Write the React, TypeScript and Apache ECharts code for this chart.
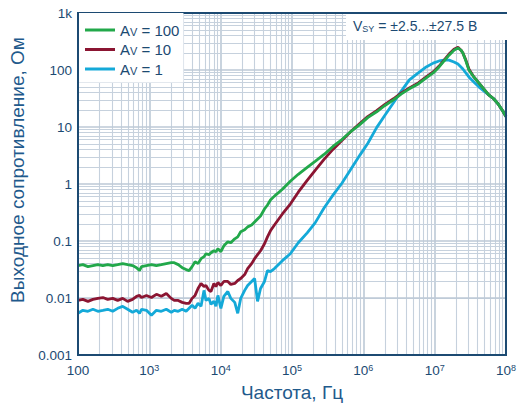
import React, { useEffect, useRef } from "react";
import * as echarts from "echarts";

// Frequency, Hz
const freqs = [
  100, 117, 138, 162, 190, 223, 261, 307, 360, 423,
  496, 582, 662, 728, 777, 911, 1070, 1256, 1473, 1729,
  2028, 2234, 2541, 2887, 3281, 3612, 3975, 4375, 4816, 5304,
  5839, 6223, 6852, 7307, 8043, 8576, 9145, 10070, 11080, 12600,
  13870, 15760, 17350, 19100, 21710, 23890, 27160, 29900, 32900, 36230,
  41180, 45330, 49900, 56730, 73300, 94700, 122400, 163300, 211000, 281300,
  375100, 500600, 667800, 891000, 1152000, 1537000, 1985000, 2648000, 3422000, 4420000,
  5895000, 7620000, 9530000, 11550000, 13550000, 15910000, 18660000, 21220000, 23360000, 24900000,
  27400000, 30190000, 35430000, 41570000, 48780000, 57260000, 67200000, 78900000, 89700000, 100000000,
];

// Output impedance, Ohm, A_V = 100
const zAv100 = [
  0.0370, 0.0385, 0.0355, 0.0370, 0.0385, 0.0370, 0.0385, 0.0370, 0.0385, 0.0401,
  0.0385, 0.0370, 0.0341, 0.0303, 0.0355, 0.0370, 0.0385, 0.0370, 0.0385, 0.0401,
  0.0417, 0.0417, 0.0385, 0.0341, 0.0315, 0.0303, 0.0355, 0.0434, 0.0401, 0.0490,
  0.0531, 0.0598, 0.0575, 0.0623, 0.0675, 0.0649, 0.0731, 0.0649, 0.0824, 0.0968,
  0.0930, 0.109, 0.118, 0.145, 0.157, 0.177, 0.191, 0.216, 0.244, 0.275,
  0.364, 0.428, 0.522, 0.613, 0.811, 1.12, 1.48, 1.96, 2.50, 3.30,
  4.56, 6.03, 8.32, 11.0, 14.6, 18.5, 23.6, 30.0, 38.2, 46.7,
  57.0, 72.6, 88.7, 113, 144, 182, 223, 242, 223, 198,
  144, 100, 75.5, 59.4, 46.7, 36.7, 31.3, 24.6, 19.3, 15.2,
];

// Output impedance, Ohm, A_V = 10
const zAv10 = [
  0.00908, 0.00945, 0.00873, 0.00945, 0.00985, 0.0102, 0.00945, 0.00985, 0.00908, 0.00985,
  0.00873, 0.00945, 0.0107, 0.0111, 0.0102, 0.0111, 0.0102, 0.0116, 0.0107, 0.0120,
  0.00985, 0.00908, 0.00908, 0.00838, 0.00806, 0.00806, 0.00985, 0.0111, 0.0147, 0.0180,
  0.0159, 0.0166, 0.0136, 0.0130, 0.0180, 0.0159, 0.0187, 0.0166, 0.0195, 0.0195,
  0.0173, 0.0180, 0.0203, 0.0220, 0.0258, 0.0328, 0.0401, 0.0490, 0.0575, 0.0675,
  0.0893, 0.118, 0.151, 0.191, 0.298, 0.445, 0.719, 1.16, 1.74, 2.70,
  4.04, 5.79, 8.32, 11.5, 15.2, 19.3, 24.6, 31.3, 39.7, 48.6,
  59.4, 75.5, 92.3, 117, 149, 190, 232, 252, 223, 198,
  149, 104, 75.5, 59.4, 46.7, 36.7, 31.3, 24.6, 19.3, 15.2,
];

// Output impedance, Ohm, A_V = 1
const zAv1 = [
  0.00539, 0.00608, 0.00584, 0.00633, 0.00584, 0.00608, 0.00633, 0.00584, 0.00659, 0.00714,
  0.00633, 0.00561, 0.00608, 0.00539, 0.00633, 0.00608, 0.00498, 0.00608, 0.00584, 0.00633,
  0.00561, 0.00608, 0.00584, 0.00633, 0.00584, 0.00659, 0.00743, 0.00659, 0.00806, 0.00714,
  0.0136, 0.00908, 0.00985, 0.00774, 0.00873, 0.00714, 0.0111, 0.00659, 0.0107, 0.0130,
  0.00985, 0.00838, 0.00539, 0.00985, 0.0136, 0.0166, 0.0195, 0.0220, 0.00873, 0.0147,
  0.0195, 0.0303, 0.0291, 0.0328, 0.0452, 0.0598, 0.0930, 0.139, 0.208, 0.379,
  0.638, 1.03, 1.81, 3.18, 5.14, 9.76, 15.8, 26.6, 43.1, 67.0,
  88.7, 113, 132, 144, 149, 149, 138, 127, 113, 104,
  88.7, 75.5, 61.8, 50.6, 43.1, 36.7, 31.3, 24.6, 19.3, 15.2,
];

const gains = [100, 10, 1];
const seriesColors = ["#22a84a", "#8b1532", "#14a9d8"];
const xTickExponents = [2, 3, 4, 5, 6, 7, 8];
const yTickLabels = ["0.001", "0.01", "0.1", "1", "10", "100", "1k"];
const xAxisTitle = "Частота, Гц";
const yAxisTitle = "Выходное сопротивление, Ом";
const noteText = "V{sub|SY} = ±2.5...±27.5 В";

const FONT = "'Liberation Sans', Arial, Helvetica, sans-serif";
const NAVY = "#1c4a72";
const TITLE = "#1f5a8c";
const GRID_MINOR = "#c6d1dd";
const GRID_MAJOR = "#bcc9d6";

function gridLines() {
  const items: any[] = [];
  for (let k = xTickExponents[0]; k < xTickExponents[xTickExponents.length - 1]; k++) {
    for (let m = 1; m <= 9; m++) {
      if (m === 1 && k === xTickExponents[0]) continue;
      items.push({
        xAxis: m * Math.pow(10, k),
        lineStyle: { type: "solid", color: m === 1 ? GRID_MAJOR : GRID_MINOR, width: m === 1 ? 1.6 : 1.1 },
      });
    }
  }
  for (let k = -3; k < 3; k++) {
    for (let m = 1; m <= 9; m++) {
      if (m === 1 && k === -3) continue;
      items.push({
        yAxis: m * Math.pow(10, k),
        lineStyle: { type: "solid", color: m === 1 ? GRID_MAJOR : GRID_MINOR, width: m === 1 ? 1.6 : 1.1 },
      });
    }
  }
  return items;
}

export default function App() {
  const ref = useRef<HTMLDivElement>(null);
  useEffect(() => {
    if (!ref.current) return;
    const chart = echarts.init(ref.current, null, { renderer: "svg" });
    const values = [zAv100, zAv10, zAv1];
    const names = gains.map((g) => `AV = ${g}`);
    const dataSeries = [2, 1, 0].map((i) => ({
      name: names[i],
      type: "line",
      z: 3,
      showSymbol: false,
      symbol: "none",
      smooth: false,
      clip: true,
      color: seriesColors[i],
      lineStyle: { color: seriesColors[i], width: 2.8 },
      data: freqs.map((f, j) => [f, values[i][j]]),
    }));
    const option: any = {
      animation: false,
      backgroundColor: "#ffffff",
      textStyle: { fontFamily: FONT },
      grid: {
        left: 78,
        right: 9,
        top: 13,
        bottom: 50,
        show: true,
        z: 4,
        borderColor: NAVY,
        borderWidth: 2,
        backgroundColor: "transparent",
      },
      legend: {
        data: names,
        orient: "vertical",
        left: 79,
        top: 13,
        padding: [5, 4, 6, 6],
        itemGap: 0,
        itemWidth: 30,
        itemHeight: 3,
        itemTextGap: 3,
        icon: "rect",
        backgroundColor: "#ffffff",
        z: 6,
        formatter: (name: string) => name.replace(/^AV/, "A{sub|V}"),
        textStyle: {
          fontFamily: FONT,
          fontSize: 15,
          lineHeight: 14,
          color: NAVY,
          rich: {
            sub: { fontFamily: FONT, fontSize: 11, lineHeight: 6, padding: [8, 0, 0, 0], verticalAlign: "bottom", color: NAVY },
          },
        },
      },
      xAxis: {
        type: "log",
        logBase: 10,
        min: Math.pow(10, xTickExponents[0]),
        max: Math.pow(10, xTickExponents[xTickExponents.length - 1]),
        splitNumber: xTickExponents.length - 1,
        name: xAxisTitle,
        nameLocation: "middle",
        nameGap: 28,
        nameTextStyle: { fontFamily: FONT, fontSize: 19, color: TITLE },
        axisLine: { show: false },
        axisTick: { show: false },
        splitLine: { show: false },
        axisLabel: {
          show: true,
          showMinLabel: true,
          showMaxLabel: true,
          margin: 8,
          fontFamily: FONT,
          fontSize: 13.5,
          lineHeight: 14,
          color: NAVY,
          formatter: (v: number) => {
            const e = Math.round(Math.log10(v));
            return e === 2 ? "100" : `10{s|${e}}`;
          },
          rich: {
            s: { fontFamily: FONT, fontSize: 9, lineHeight: 8, verticalAlign: "top", color: NAVY },
          },
        },
      },
      yAxis: {
        type: "log",
        logBase: 10,
        min: 0.001,
        max: 1000,
        splitNumber: 6,
        name: yAxisTitle,
        nameLocation: "middle",
        nameGap: 50,
        nameTextStyle: { fontFamily: FONT, fontSize: 19, color: TITLE, padding: [0, 0, 0, 28] },
        axisLine: { show: false },
        axisTick: { show: false },
        splitLine: { show: false },
        axisLabel: {
          show: true,
          showMinLabel: true,
          showMaxLabel: true,
          margin: 6,
          fontFamily: FONT,
          fontSize: 13.5,
          color: NAVY,
          formatter: (v: number) => yTickLabels[Math.round(Math.log10(v)) + 3],
        },
      },
      graphic: [
        {
          type: "rect",
          z: 10,
          shape: { x: 346, y: 14, width: 163, height: 26 },
          style: { fill: "#ffffff" },
        },
        {
          type: "text",
          z: 11,
          x: 353,
          y: 26,
          style: {
            text: noteText,
            verticalAlign: "middle",
            fontFamily: FONT,
            fontSize: 14,
            lineHeight: 14,
            fill: NAVY,
            rich: {
              sub: { fontFamily: FONT, fontSize: 9, lineHeight: 6, padding: [8, 0, 0, 0], verticalAlign: "bottom", fill: NAVY },
            },
          },
        },
      ],
      series: [
        {
          name: "grid",
          type: "line",
          z: 1,
          silent: true,
          symbol: "none",
          data: [],
          markLine: {
            silent: true,
            z: 1,
            symbol: ["none", "none"],
            label: { show: false },
            animation: false,
            lineStyle: { type: "solid" },
            data: gridLines(),
          },
        },
        ...dataSeries,
      ],
    };
    chart.setOption(option);
    return () => chart.dispose();
  }, []);
  return <div ref={ref} style={{ position: "absolute", left: 0, top: 0, width: 519, height: 407 }} />;
}
